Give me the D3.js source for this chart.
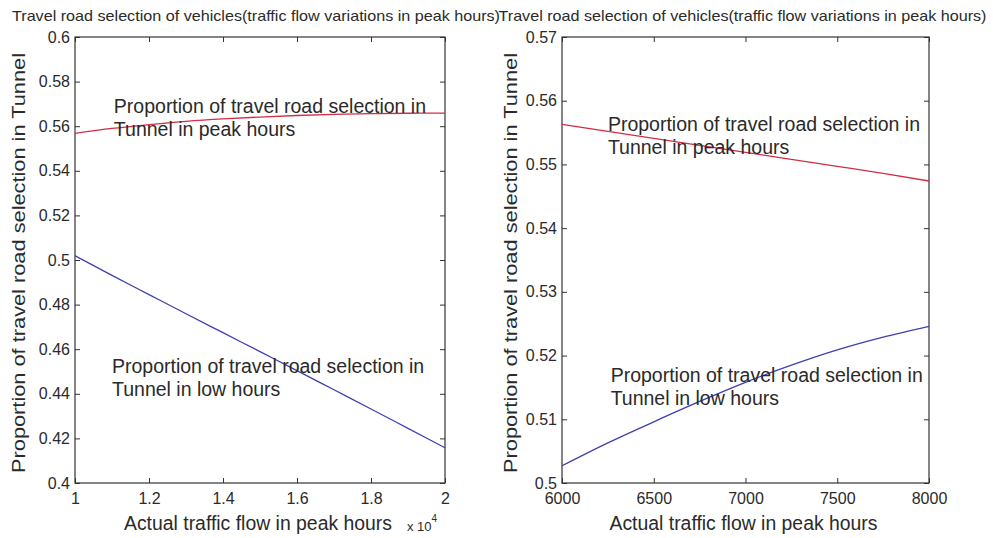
<!DOCTYPE html>
<html>
<head>
<meta charset="utf-8">
<script src="https://cdn.jsdelivr.net/npm/d3@7"></script>
<style>
  html, body { margin: 0; padding: 0; background: #fff; }
  svg text { font-family: "Liberation Sans", Arial, sans-serif; fill: #2a2a2a; }
</style>
</head>
<body>
<div id="chart"></div>
<script>
// data: left panel (flow in 10^4 vehicles)
const leftFlow = [10000, 11000, 12000, 13000, 14000, 15000, 16000, 17000, 18000, 19000, 20000];
const leftPeak = [0.5568, 0.5590, 0.5607, 0.5622, 0.5633, 0.5641, 0.5648, 0.5653, 0.5656, 0.5658, 0.5659];
const leftLow  = [0.5019, 0.4931, 0.4845, 0.4759, 0.4674, 0.4589, 0.4504, 0.4418, 0.4332, 0.4245, 0.4158];
const leftXTicks = [10000, 12000, 14000, 16000, 18000, 20000];
const leftYTicks = [0.4, 0.42, 0.44, 0.46, 0.48, 0.5, 0.52, 0.54, 0.56, 0.58, 0.6];

// data: right panel
const rightFlow = [6000, 6250, 6500, 6750, 7000, 7250, 7500, 7750, 8000];
const rightPeak = [0.5563, 0.5552, 0.5541, 0.5530, 0.5519, 0.5508, 0.5497, 0.5486, 0.5474];
const rightLow  = [0.5027, 0.5063, 0.5096, 0.5128, 0.5158, 0.5185, 0.5209, 0.5229, 0.5246];
const rightXTicks = [6000, 6500, 7000, 7500, 8000];
const rightYTicks = [0.5, 0.51, 0.52, 0.53, 0.54, 0.55, 0.56, 0.57];

const titleText = 'Travel road selection of vehicles(traffic flow variations in peak hours)';
const xLabelText = 'Actual traffic flow in peak hours';
const yLabelText = 'Proportion of travel road selection in Tunnel';
const peakNote = ['Proportion of travel road selection in', 'Tunnel in peak hours'];
const lowNote = ['Proportion of travel road selection in', 'Tunnel in low hours'];

const config = {
  width: 993,
  height: 538,
  stroke: { color: '#333', width: 1.2 },
  colors: { peak: '#d22d44', low: '#3f3fb2' },
  font: { tick: 16, label: 19.4, title: 15, note: 19.5 },
  tickLen: 5,
  noteGap: 23,
};

const svg = d3.select('#chart')
  .append('svg')
  .attr('width', config.width)
  .attr('height', config.height);

// パネル描画
function drawPanel(p) {
  const x = d3.scaleLinear().domain(p.xDomain).range([p.left, p.right]);
  const y = d3.scaleLinear().domain(p.yDomain).range([p.bottom, p.top]);
  const g = svg.append('g');

  // axes (inward ticks on all sides)
  const bottom = g.append('g')
    .attr('transform', `translate(0,${p.bottom})`)
    .call(d3.axisBottom(x).tickValues(p.xTicks).tickFormat(p.xFormat)
      .tickSizeInner(-config.tickLen).tickSizeOuter(0).tickPadding(10));
  const top = g.append('g')
    .attr('transform', `translate(0,${p.top})`)
    .call(d3.axisTop(x).tickValues(p.xTicks).tickFormat('')
      .tickSizeInner(-config.tickLen).tickSizeOuter(0));
  const leftAx = g.append('g')
    .attr('transform', `translate(${p.left},0)`)
    .call(d3.axisLeft(y).tickValues(p.yTicks).tickFormat(d3.format('~g'))
      .tickSizeInner(-config.tickLen).tickSizeOuter(0).tickPadding(5));
  const rightAx = g.append('g')
    .attr('transform', `translate(${p.right},0)`)
    .call(d3.axisRight(y).tickValues(p.yTicks).tickFormat('')
      .tickSizeInner(-config.tickLen).tickSizeOuter(0));

  [bottom, top, leftAx, rightAx].forEach(a => {
    a.select('.domain').remove();
    a.selectAll('line').attr('stroke', config.stroke.color).attr('stroke-width', 1);
    a.selectAll('text').attr('font-size', config.font.tick).attr('fill', '#2a2a2a');
  });

  // box
  g.append('rect')
    .attr('x', p.left).attr('y', p.top)
    .attr('width', p.right - p.left).attr('height', p.bottom - p.top)
    .attr('fill', 'none')
    .attr('stroke', config.stroke.color)
    .attr('stroke-width', config.stroke.width);

  // series
  const line = d3.line().curve(d3.curveMonotoneX).x(d => x(d[0])).y(d => y(d[1]));
  [[p.peak, config.colors.peak], [p.low, config.colors.low]].forEach(([vals, color]) => {
    g.append('path')
      .datum(p.flow.map((f, i) => [f, vals[i]]))
      .attr('d', line)
      .attr('fill', 'none')
      .attr('stroke', color)
      .attr('stroke-width', 1.3);
  });

  // notes
  [[peakNote, p.peakAt], [lowNote, p.lowAt]].forEach(([lines, at]) => {
    lines.forEach((t, i) => {
      g.append('text')
        .text(t)
        .attr('x', x(at[0]))
        .attr('y', y(at[1]) + i * config.noteGap)
        .attr('font-size', config.font.note);
    });
  });

  // title
  g.append('text')
    .text(titleText)
    .attr('x', (p.left + p.right) / 2 + p.titleShift)
    .attr('y', 21)
    .attr('text-anchor', 'middle')
    .attr('font-size', config.font.title)
    .attr('textLength', 488)
    .attr('lengthAdjust', 'spacingAndGlyphs');

  // x label
  g.append('text')
    .text(xLabelText)
    .attr('x', (p.left + p.right) / 2 - 2)
    .attr('y', 530)
    .attr('text-anchor', 'middle')
    .attr('font-size', config.font.label);

  // y label
  g.append('text')
    .text(yLabelText)
    .attr('transform', `translate(${p.left - p.yLabelOffset},${(p.top + p.bottom) / 2 + 3}) rotate(-90)`)
    .attr('text-anchor', 'middle')
    .attr('font-size', 19)
    .attr('textLength', 420)
    .attr('lengthAdjust', 'spacingAndGlyphs');

  // exponent note
  if (p.exponent) {
    const ex = g.append('text')
      .attr('x', p.right - 38)
      .attr('y', 531)
      .attr('font-size', 13);
    ex.append('tspan').text('x 10');
    ex.append('tspan').text(p.exponent).attr('dy', -9).attr('font-size', 10);
  }
}

drawPanel({
  left: 75, right: 445, top: 37, bottom: 483,
  xDomain: [10000, 20000], yDomain: [0.4, 0.6],
  xTicks: leftXTicks, yTicks: leftYTicks,
  xFormat: d => d3.format('~g')(d / 10000),
  flow: leftFlow, peak: leftPeak, low: leftLow,
  peakAt: [11050, 0.5658], lowAt: [11000, 0.4492],
  titleShift: -4, yLabelOffset: 50, exponent: '4',
});

drawPanel({
  left: 562, right: 929, top: 37, bottom: 483,
  xDomain: [6000, 8000], yDomain: [0.5, 0.57],
  xTicks: rightXTicks, yTicks: rightYTicks,
  xFormat: d3.format('d'),
  flow: rightFlow, peak: rightPeak, low: rightLow,
  peakAt: [6250, 0.5552], lowAt: [6265, 0.5159],
  titleShift: -3, yLabelOffset: 45, exponent: null,
});
</script>
</body>
</html>
